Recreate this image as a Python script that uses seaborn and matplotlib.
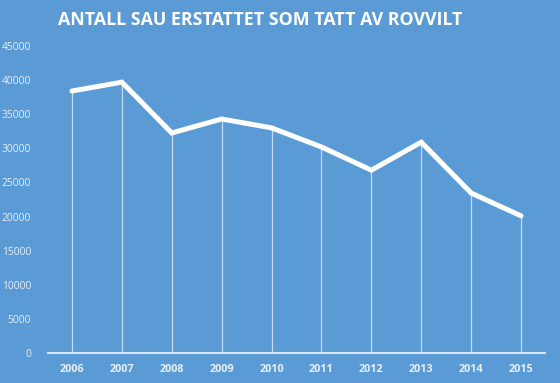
import matplotlib
matplotlib.use("Agg")
import matplotlib.pyplot as plt
import seaborn as sns
import pandas as pd

years = ["2006", "2007", "2008", "2009", "2010", "2011", "2012", "2013", "2014", "2015"]
sheep = [38400, 39700, 32250, 34300, 33000, 30200, 26800, 30900, 23450, 20100]
y_ticks = [0, 5000, 10000, 15000, 20000, 25000, 30000, 35000, 40000, 45000]
title = "ANTALL SAU ERSTATTET SOM TATT AV ROVVILT"

bg = "#5B9BD5"
sns.set_theme(style="white")
plt.rcParams['font.family'] = ['Open Sans', 'DejaVu Sans']

df = pd.DataFrame({"year": years, "sheep": sheep})
df["pos"] = range(len(years))

fig = plt.figure(figsize=(5.6, 3.83), dpi=100, facecolor=bg)
ax = fig.add_axes([48/560, 30/383, (545-48)/560, (353-46)/383])
ax.set_facecolor(bg)

ax.vlines(df["pos"], 0, df["sheep"], color="#C4DAEF", linewidth=0.9, zorder=2)
sns.lineplot(data=df, x="pos", y="sheep", ax=ax, color="white", linewidth=3.6,
             zorder=3, solid_joinstyle="miter")

ax.set_xlim(-0.48, 9.48)
ax.set_ylim(0, 45000)
ax.set_yticks(y_ticks)
ax.set_yticklabels([str(v) for v in y_ticks], fontsize=7.4, color="#E6EEF7")
ax.set_xticks(df["pos"])
ax.set_xticklabels(years, fontsize=7.8, color="#E6EEF7", fontweight="bold")
ax.tick_params(axis="y", length=0, pad=12)
ax.tick_params(axis="x", length=0, pad=8)
ax.set_xlabel("")
ax.set_ylabel("")
for s in ["top", "right", "left"]:
    ax.spines[s].set_visible(False)
ax.spines["bottom"].set_color("#D6E6F5")
ax.spines["bottom"].set_linewidth(1.5)

fig.text(260/560, 1 - 20/383, title, ha="center", va="center", color="white",
         fontsize=12.8, fontweight="bold")

fig.savefig("out.png", dpi=100, facecolor=bg)
